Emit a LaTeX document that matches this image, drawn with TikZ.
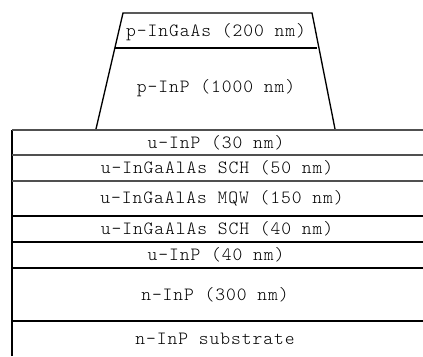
\documentclass[tikz,border=0pt]{standalone}
\usepackage{fontspec}
\newfontfamily\layerfont{Latin Modern Mono Light}[LetterSpace=5]

\begin{document}
\begin{tikzpicture}[x=0.75pt,y=0.75pt,yscale=-1,xscale=1,
  layertext/.style={inner sep=0.75pt,font=\layerfont\fontsize{14pt}{16pt}\selectfont},
  edge/.style={line width=1pt,draw=black},
  grayedge/.style={line width=1pt,draw={rgb,255:red,80;green,80;blue,80}}]
\useasboundingbox (0,0) rectangle (423,356);

%Shape: Trapezoid [id:ridge]
\draw [edge] (96,129) -- (123,13) -- (312,13) -- (335,129) ;
%Shape: Line [id:ridgesplit]
\draw [edge] (115,48) -- (317,48) ;

%Shape: Layer stack [id:stack]
\draw [edge] (12,356) -- (12,129.5) ;
\draw [grayedge] (12,130) -- (424,130) ;
\draw [grayedge] (12,155) -- (424,155) ;
\draw [grayedge] (12,181) -- (424,181) ;
\draw [edge] (12,216) -- (424,216) ;
\draw [edge] (12,242) -- (424,242) ;
\draw [edge] (12,268) -- (424,268) ;
\draw [edge] (12,321) -- (424,321) ;

% Text Node
\node [layertext] (ingaas) at (216,32) {p-InGaAs (200 nm)};
% Text Node
\node [layertext] (pinp) at (216,88) {p-InP (1000 nm)};
% Text Node
\node [layertext] (uinptop) at (216,142.5) {u-InP (30 nm)};
% Text Node
\node [layertext] (schtop) at (217,168) {u-InGaAlAs SCH (50 nm)};
% Text Node
\node [layertext] (mqw) at (222,198.5) {u-InGaAlAs MQW (150 nm)};
% Text Node
\node [layertext] (schbot) at (217,229) {u-InGaAlAs SCH (40 nm)};
% Text Node
\node [layertext] (uinpbot) at (216,255) {u-InP (40 nm)};
% Text Node
\node [layertext] (ninp) at (215,294.5) {n-InP (300 nm)};
% Text Node
\node [layertext] (substrate) at (215,339) {n-InP substrate};

\end{tikzpicture}
\end{document}
